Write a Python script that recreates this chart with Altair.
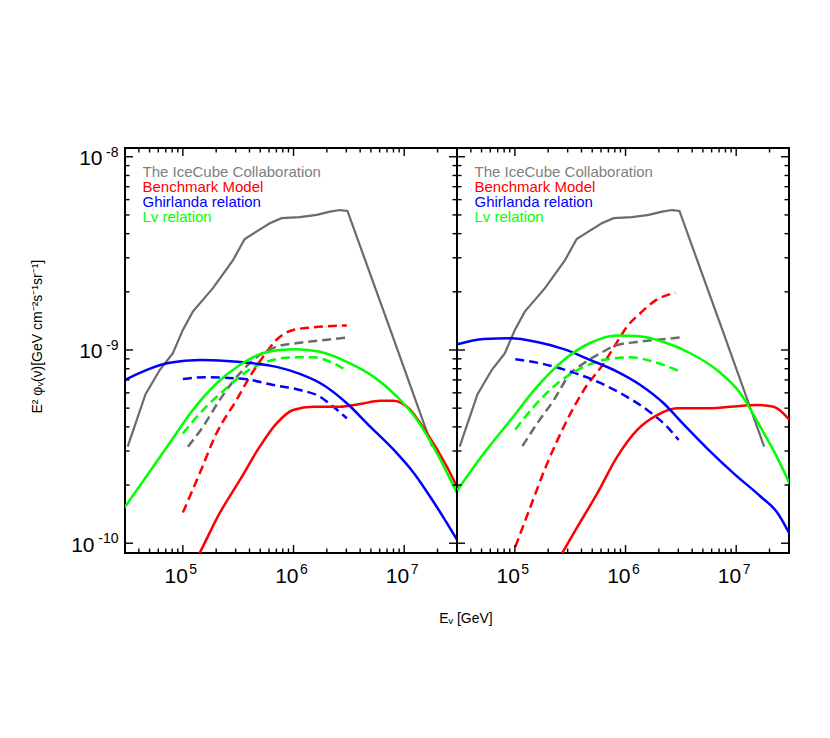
import altair as alt
import pandas as pd

# ---------------- data ----------------
# energies in GeV, fluxes E^2 phi in GeV cm^-2 s^-1 sr^-1
icecube_E = [3.17e4, 4.6e4, 6.2e4, 8.1e4, 1.0e5, 1.23e5, 1.87e5, 2.84e5, 3.62e5, 4.62e5,
             6.1e5, 7.8e5, 1.14e6, 1.62e6, 2.14e6, 2.63e6, 3.07e6, 7.5e6, 1.79e7]
icecube_F = [3.16e-10, 5.9e-10, 7.9e-10, 9.6e-10, 1.27e-9, 1.58e-9, 2.09e-9, 2.92e-9, 3.75e-9, 4.1e-9,
             4.53e-9, 4.81e-9, 4.87e-9, 5.0e-9, 5.2e-9, 5.3e-9, 5.24e-9, 1.27e-9, 3.16e-10]

# left panel, solid
bench_L_E = [1.15e5, 1.42e5, 2.15e5, 3.27e5, 4.95e5, 7.03e5, 9.93e5, 1.51e6, 2.64e6, 4.0e6,
             6.07e6, 8.02e6, 1.06e7, 1.61e7, 2.44e7, 3.0e7]
bench_L_F = [7.08e-11, 8.91e-11, 1.43e-10, 2.12e-10, 3.16e-10, 4.17e-10, 4.89e-10, 5.08e-10, 5.08e-10, 5.25e-10,
             5.46e-10, 5.46e-10, 5.08e-10, 3.70e-10, 2.48e-10, 1.96e-10]
ghir_L_E = [2.9e4, 4.66e4, 7.57e4, 1.42e5, 2.47e5, 4.32e5, 7.03e5, 1.14e6, 1.86e6, 3.03e6,
            4.93e6, 8.02e6, 1.22e7, 1.85e7, 3.01e7]
ghir_L_F = [6.93e-10, 7.87e-10, 8.59e-10, 8.87e-10, 8.77e-10, 8.53e-10, 8.18e-10, 7.52e-10, 6.59e-10, 5.30e-10,
            4.01e-10, 3.05e-10, 2.31e-10, 1.63e-10, 1.04e-10]
lv_L_E = [2.9e4, 4.66e4, 7.57e4, 1.23e5, 2.01e5, 3.27e5, 4.95e5, 7.53e5, 1.07e6, 1.73e6,
          3.03e6, 5.28e6, 8.61e6, 1.31e7, 1.98e7, 3.01e7]
lv_L_F = [1.50e-10, 2.21e-10, 3.29e-10, 4.89e-10, 6.71e-10, 8.36e-10, 9.51e-10, 1.0e-9, 1.01e-9, 9.79e-10,
          8.69e-10, 7.28e-10, 5.73e-10, 4.34e-10, 2.92e-10, 1.81e-10]

# left panel, dashed
bench_dash_L_E = [1.0e5, 1.42e5, 2.01e5, 3.05e5, 4.03e5, 5.31e5, 7.03e5, 9.93e5, 1.51e6, 3.03e6]
bench_dash_L_F = [1.44e-10, 2.30e-10, 3.70e-10, 5.51e-10, 7.28e-10, 9.23e-10, 1.13e-9, 1.27e-9, 1.31e-9, 1.34e-9]
ice_dash_L_E = [1.11e5, 1.52e5, 2.15e5, 3.27e5, 4.95e5, 7.03e5, 1.14e6, 2.0e6, 3.13e6]
ice_dash_L_F = [3.16e-10, 4.01e-10, 5.51e-10, 7.57e-10, 9.42e-10, 1.04e-9, 1.09e-9, 1.13e-9, 1.16e-9]
lv_dash_L_E = [1.0e5, 1.52e5, 2.47e5, 3.76e5, 5.70e5, 9.93e5, 1.51e6, 2.14e6, 3.03e6]
lv_dash_L_F = [3.70e-10, 4.89e-10, 6.34e-10, 7.73e-10, 8.69e-10, 9.16e-10, 9.16e-10, 8.69e-10, 7.82e-10]
ghir_dash_L_E = [1.0e5, 1.63e5, 2.47e5, 3.76e5, 6.55e5, 1.14e6, 1.73e6, 2.29e6, 3.03e6]
ghir_dash_L_F = [7.08e-10, 7.23e-10, 7.18e-10, 7.05e-10, 6.59e-10, 6.21e-10, 5.73e-10, 5.08e-10, 4.43e-10]

# right panel, solid
ghir_R_E = [3.02e4, 5.25e4, 9.14e4, 1.59e5, 2.77e5, 4.82e5, 8.39e5, 1.36e6, 2.21e6, 3.35e6,
            5.45e6, 9.48e6, 1.65e7, 2.33e7, 3.03e7]
ghir_R_F = [1.07e-9, 1.14e-9, 1.15e-9, 1.10e-9, 1.01e-9, 8.87e-10, 7.73e-10, 6.59e-10, 5.30e-10, 4.12e-10,
            3.10e-10, 2.30e-10, 1.75e-10, 1.45e-10, 1.12e-10]
lv_R_E = [3.02e4, 5.25e4, 9.14e4, 1.59e5, 2.77e5, 4.82e5, 8.39e5, 1.27e6, 2.21e6, 3.85e6,
          6.71e6, 1.09e7, 1.65e7, 2.33e7, 3.03e7]
lv_R_F = [1.88e-10, 2.92e-10, 4.34e-10, 6.46e-10, 8.87e-10, 1.09e-9, 1.19e-9, 1.18e-9, 1.10e-9, 9.62e-10,
          7.87e-10, 5.97e-10, 4.01e-10, 2.80e-10, 2.04e-10]
bench_R_E = [2.28e5, 2.68e5, 3.66e5, 5.55e5, 8.39e5, 1.27e6, 1.93e6, 2.92e6, 5.08e6, 8.85e6,
             1.54e7, 2.18e7, 3.03e7]
bench_R_F = [7.60e-11, 8.91e-11, 1.21e-10, 1.81e-10, 2.80e-10, 3.85e-10, 4.60e-10, 4.99e-10, 4.99e-10, 5.08e-10,
             5.19e-10, 5.08e-10, 4.34e-10]

# right panel, dashed
bench_dash_R_E = [1.01e5, 1.38e5, 1.96e5, 2.77e5, 4.20e5, 6.35e5, 8.39e5, 1.03e6, 1.36e6, 1.80e6, 2.82e6]
bench_dash_R_F = [9.57e-11, 1.54e-10, 2.59e-10, 4.01e-10, 6.21e-10, 8.53e-10, 1.10e-9, 1.32e-9, 1.55e-9, 1.78e-9, 1.98e-9]
ice_dash_R_E = [1.17e5, 1.59e5, 2.25e5, 3.18e5, 4.20e5, 5.93e5, 8.39e5, 1.27e6, 1.93e6, 3.13e6]
ice_dash_R_F = [3.18e-10, 4.17e-10, 5.51e-10, 7.57e-10, 8.53e-10, 9.62e-10, 1.06e-9, 1.10e-9, 1.13e-9, 1.16e-9]
lv_dash_R_E = [1.01e5, 1.48e5, 2.42e5, 4.20e5, 6.82e5, 1.11e6, 1.80e6, 3.13e6]
lv_dash_R_F = [3.88e-10, 5.08e-10, 6.71e-10, 8.18e-10, 8.95e-10, 9.16e-10, 8.69e-10, 7.73e-10]
ghir_dash_R_E = [1.01e5, 1.83e5, 3.18e5, 5.55e5, 9.64e5, 1.57e6, 2.37e6, 3.02e6]
ghir_dash_R_F = [8.95e-10, 8.45e-10, 7.73e-10, 6.86e-10, 5.85e-10, 4.89e-10, 4.01e-10, 3.42e-10]

# axis ticks and labels
x_major = [1e5, 1e6, 1e7]
x_major_exp = ["5", "6", "7"]
x_minor = [4e4, 5e4, 6e4, 7e4, 8e4, 9e4,
           2e5, 3e5, 4e5, 5e5, 6e5, 7e5, 8e5, 9e5,
           2e6, 3e6, 4e6, 5e6, 6e6, 7e6, 8e6, 9e6,
           2e7]
y_major = [1e-10, 1e-9, 1e-8]
y_major_exp = ["-10", "-9", "-8"]
y_minor = [2e-10, 3e-10, 4e-10, 5e-10, 6e-10, 7e-10, 8e-10, 9e-10,
           2e-9, 3e-9, 4e-9, 5e-9, 6e-9, 7e-9, 8e-9, 9e-9]

legend_labels = ["The IceCube Collaboration", "Benchmark Model", "Ghirlanda relation", "Lv relation"]
series_names = ["IceCube", "Benchmark", "Ghirlanda", "Lv"]
series_colors = ["#6b6b6b", "#ff0000", "#0000ff", "#00ff00"]
legend_colors = ["#808080", "#ff0000", "#0000ff", "#00ff00"]

# ---------------- chart ----------------
W, H = 332, 405
FONT = "Liberation Sans"
xscale = alt.Scale(type="log", domain=[3e4, 3e7], nice=False)
yscale = alt.Scale(type="log", domain=[8.9e-11, 1.11e-8], nice=False)
cscale = alt.Scale(domain=series_names, range=series_colors)


def series_df(items):
    rows = []
    for name, xs, ys in items:
        for i, (e, f) in enumerate(zip(xs, ys)):
            rows.append({"series": name, "E": e, "F": f, "i": i})
    return pd.DataFrame(rows)


def line_enc():
    return dict(
        x=alt.X("E:Q", scale=xscale, axis=None),
        y=alt.Y("F:Q", scale=yscale, axis=None),
        color=alt.Color("series:N", scale=cscale, legend=None),
        detail="series:N",
        order="i:Q",
    )


def ticks():
    layers = []
    for vals, L in ((x_major, 8), (x_minor, 4.5)):
        df = pd.DataFrame({"v": vals})
        xe = alt.X("v:Q", scale=xscale, axis=None)
        layers.append(alt.Chart(df).mark_rule(color="black", strokeWidth=1.4)
                      .encode(x=xe, y=alt.value(H), y2=alt.value(H - L)))
        layers.append(alt.Chart(df).mark_rule(color="black", strokeWidth=1.4)
                      .encode(x=xe, y=alt.value(0), y2=alt.value(L)))
    for vals, L in ((y_major, 8), (y_minor, 4.5)):
        df = pd.DataFrame({"v": vals})
        ye = alt.Y("v:Q", scale=yscale, axis=None)
        layers.append(alt.Chart(df).mark_rule(color="black", strokeWidth=1.4)
                      .encode(y=ye, x=alt.value(0), x2=alt.value(L)))
        layers.append(alt.Chart(df).mark_rule(color="black", strokeWidth=1.4)
                      .encode(y=ye, x=alt.value(W), x2=alt.value(W - L)))
    return layers


def x_labels():
    df = pd.DataFrame({"v": x_major, "b": ["10"] * 3, "e": x_major_exp})
    xe = alt.X("v:Q", scale=xscale, axis=None)
    base = alt.Chart(df).mark_text(align="right", baseline="alphabetic", dx=5, fontSize=21,
                                   font=FONT, color="black").encode(x=xe, y=alt.value(H + 30), text="b:N")
    ex = alt.Chart(df).mark_text(align="left", baseline="alphabetic", dx=6.5, fontSize=14,
                                 font=FONT, color="black").encode(x=xe, y=alt.value(H + 20.5), text="e:N")
    return [base, ex]


def y_labels():
    df = pd.DataFrame({"v": y_major, "b": ["10"] * 3, "e": y_major_exp})
    ye = alt.Y("v:Q", scale=yscale, axis=None)
    ex = alt.Chart(df).mark_text(align="right", baseline="alphabetic", dy=0, fontSize=14,
                                 font=FONT, color="black").encode(y=ye, x=alt.value(-6.5), text="e:N")
    b1 = alt.Chart(df[df.e != "-10"]).mark_text(align="right", baseline="alphabetic", dy=8.5, fontSize=21,
                                              font=FONT, color="black").encode(y=ye, x=alt.value(-22.5), text="b:N")
    b2 = alt.Chart(df[df.e == "-10"]).mark_text(align="right", baseline="alphabetic", dy=8.5, fontSize=21,
                                              font=FONT, color="black").encode(y=ye, x=alt.value(-30.5), text="b:N")
    return [ex, b1, b2]


def legend_text():
    layers = []
    for k, (lab, c) in enumerate(zip(legend_labels, legend_colors)):
        df = pd.DataFrame({"t": [lab]})
        layers.append(alt.Chart(df).mark_text(align="left", baseline="alphabetic", fontSize=15,
                                              font=FONT, color=c)
                      .encode(x=alt.value(17.5), y=alt.value(29 + 15 * k), text="t:N"))
    return layers


def panel(solid, dashed, left):
    ice = alt.Chart(series_df([("IceCube", icecube_E, icecube_F)])).mark_line(
        clip=True, strokeWidth=2.2).encode(**line_enc())
    das = alt.Chart(series_df(dashed)).mark_line(
        clip=True, strokeWidth=2.5, strokeDash=[9, 5], interpolate="monotone").encode(**line_enc())
    sol = alt.Chart(series_df(solid)).mark_line(
        clip=True, strokeWidth=2.5, interpolate="monotone").encode(**line_enc())
    layers = [ice, das, sol] + ticks() + x_labels() + legend_text()
    if left:
        layers += y_labels()
        ytitle = alt.Chart(pd.DataFrame({"t": ["E² φᵥ(ν)[GeV cm⁻²s⁻¹sr⁻¹]"]})).mark_text(
            angle=270, align="center", baseline="alphabetic", fontSize=14, font=FONT, color="black"
        ).encode(x=alt.value(-83), y=alt.value(188.7), text="t:N")
        xtitle = alt.Chart(pd.DataFrame({"t": ["Eᵥ [GeV]"]})).mark_text(
            align="center", baseline="alphabetic", fontSize=14, font=FONT, color="black"
        ).encode(x=alt.value(341), y=alt.value(475.3), text="t:N")
        layers += [ytitle, xtitle]
    return alt.layer(*layers).properties(width=W, height=H)


left_panel = panel(
    [("Benchmark", bench_L_E, bench_L_F), ("Ghirlanda", ghir_L_E, ghir_L_F), ("Lv", lv_L_E, lv_L_F)],
    [("Benchmark", bench_dash_L_E, bench_dash_L_F), ("IceCube", ice_dash_L_E, ice_dash_L_F),
     ("Lv", lv_dash_L_E, lv_dash_L_F), ("Ghirlanda", ghir_dash_L_E, ghir_dash_L_F)],
    True,
)
right_panel = panel(
    [("Benchmark", bench_R_E, bench_R_F), ("Ghirlanda", ghir_R_E, ghir_R_F), ("Lv", lv_R_E, lv_R_F)],
    [("Benchmark", bench_dash_R_E, bench_dash_R_F), ("IceCube", ice_dash_R_E, ice_dash_R_F),
     ("Lv", lv_dash_R_E, lv_dash_R_F), ("Ghirlanda", ghir_dash_R_E, ghir_dash_R_F)],
    False,
)

chart = (
    alt.hconcat(left_panel, right_panel, spacing=0, bounds="flush")
    .properties(padding={"left": 22, "top": 136, "right": 20, "bottom": 20})
    .configure(font=FONT)
    .configure_view(stroke="black", strokeWidth=2)
)

chart.save("out.html", embed_options={"renderer": "svg", "actions": False})
